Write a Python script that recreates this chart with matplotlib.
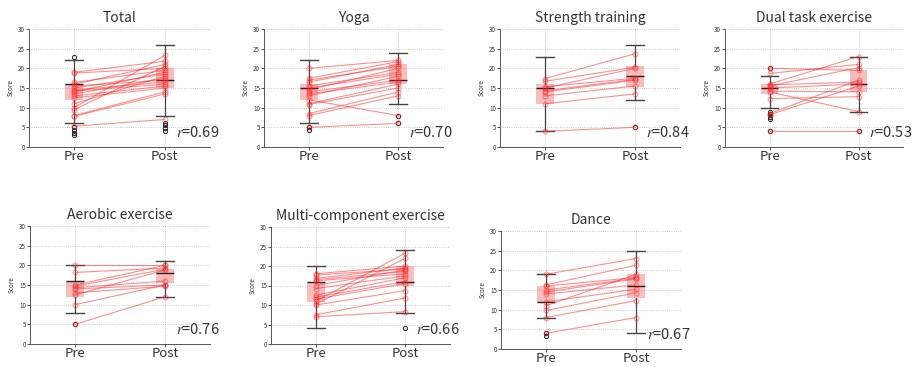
import numpy as np
import matplotlib
matplotlib.use('Agg')
import matplotlib.pyplot as plt

plt.rcParams['font.family'] = ['Noto Sans CJK JP', 'DejaVu Sans']
plt.rcParams['mathtext.fontset'] = 'stix'

#panel titles and correlation values
titles = ['Total', 'Yoga', 'Strength training', 'Dual task exercise',
          'Aerobic exercise', 'Multi-component exercise', 'Dance']
r_values = [0.69, 0.70, 0.84, 0.53, 0.76, 0.66, 0.67]
groups = ['Pre', 'Post']

#paired scores (pre, post)
total_pre = [19, 18.8, 16.4, 16, 15.5, 15, 14.5, 14.2, 14, 13.5, 13, 12.5, 11, 10, 9.5, 8, 7.8, 5.3]
total_post = [21.8, 20, 19.5, 21, 17, 18.5, 16.5, 16, 19, 17.5, 15.5, 15, 18, 23.3, 20.5, 14, 13.5, 7]
yoga_pre = [20, 17.5, 17, 16.5, 15.5, 15, 14.5, 14, 13.5, 13, 12, 11, 10.8, 8.5, 8, 5]
yoga_post = [22, 21.7, 20.5, 21, 19, 18.5, 20, 17, 16.5, 18, 8, 16, 15, 14, 13, 6]
strength_pre = [17.4, 16.7, 15.3, 15, 14.3, 14, 13, 11, 4]
strength_post = [23.7, 20.3, 17.5, 20, 17.2, 17, 15.5, 13.5, 5]
dual_pre = [20, 18.7, 16, 15.8, 15.5, 15, 14.2, 14, 12.3, 8.5, 8.2, 4]
dual_post = [19.5, 21, 23, 16.5, 20.2, 16, 14, 9, 12.8, 17, 15.5, 4]
aerobic_pre = [20, 18.2, 15, 14.7, 14.3, 14, 13, 12.5, 10, 5]
aerobic_post = [20, 19.3, 20, 19, 16, 15, 14.7, 18.8, 15, 12]
multi_pre = [18, 17.7, 16.8, 16.5, 16.2, 15, 14.2, 12.5, 12, 11.5, 11, 10.2, 10, 7.5, 7]
multi_post = [20, 19.2, 19.5, 18.6, 18, 19, 17.5, 17, 16, 15.5, 23.3, 22, 13.7, 11.8, 8.3]
dance_pre = [19, 16.3, 16, 15, 14.5, 14, 12, 11, 9.8, 8, 4]
dance_post = [23, 21.3, 18.2, 18, 17.8, 16.3, 15.2, 19, 14.3, 12.3, 8]

pre_scores = [total_pre, yoga_pre, strength_pre, dual_pre, aerobic_pre, multi_pre, dance_pre]
post_scores = [total_post, yoga_post, strength_post, dual_post, aerobic_post, multi_post, dance_post]

#box statistics per panel: [pre, post]
q1 = [[12, 15], [12, 16], [11, 15.3], [13.5, 14], [12, 15.5], [10.8, 14.8], [12, 13]]
med = [[16, 17], [15, 17], [15, 18], [15, 16], [16, 18], [16, 16], [12, 16]]
q3 = [[16, 20], [16, 21], [16, 20.5], [16, 19.5], [16, 19], [16, 20], [16, 19]]
whislo = [[6, 8], [6, 11], [4, 12], [10, 9], [8, 12], [4, 8], [8, 4]]
whishi = [[22, 26], [22, 24], [23, 26], [18, 23], [20, 21], [20, 24], [19, 25]]
fliers = [[[23, 5, 4.2, 3.6, 3.0], [6.2, 5.5, 4.8, 4.1]],
          [[5, 4.2], [8, 6]],
          [[], [5]],
          [[20, 8.8, 8.3, 7.6, 7.0, 4], [4]],
          [[5], []],
          [[], [4]],
          [[4, 3.2], []]]

#axes positions in pixels: left, right, top, bottom
W, H = 919, 367
boxes_px = [(29, 210, 29, 147), (264, 443, 29, 147), (500, 680, 29, 147), (725, 903, 29, 147),
            (30, 210, 226, 344), (271, 450, 227, 344), (501, 681, 231, 349)]

fig = plt.figure(figsize=(W / 100, H / 100), dpi=100)

for i in range(7):
    l, r, t, b = boxes_px[i]
    ax = fig.add_axes([l / W, 1 - b / H, (r - l) / W, (b - t) / H])

    stats = []
    for j in range(2):
        stats.append(dict(label=groups[j], med=med[i][j], q1=q1[i][j], q3=q3[i][j],
                          whislo=whislo[i][j], whishi=whishi[i][j], fliers=fliers[i][j]))
    ax.bxp(stats, positions=[1, 2], widths=0.2, capwidths=0.2, patch_artist=True,
           boxprops=dict(facecolor='#f47c7c', edgecolor='none', alpha=0.5),
           medianprops=dict(color='#222222', linewidth=1.0),
           whiskerprops=dict(color='#444444', linewidth=0.9),
           capprops=dict(color='#444444', linewidth=1.0),
           flierprops=dict(marker='o', markersize=3, markerfacecolor='none',
                           markeredgecolor='#222222', markeredgewidth=0.7),
           zorder=2)

    #paired lines
    for a, c in zip(pre_scores[i], post_scores[i]):
        ax.plot([1, 2], [a, c], color='#ff2020', alpha=0.5, linewidth=0.8,
                marker='o', markersize=3.5, markerfacecolor='none',
                markeredgewidth=0.7, zorder=3)

    ax.set_xlim(0.5, 2.5)
    ax.set_ylim(0, 30)
    ax.set_xticks([1, 2])
    ax.set_xticklabels(groups, fontsize=9.5, color='#333333')
    ax.set_yticks(range(0, 31, 5))
    ax.tick_params(axis='y', labelsize=4.5, length=2, width=0.6, pad=1, colors='#333333')
    ax.tick_params(axis='x', length=2, width=0.6, pad=0.5, colors='#333333')
    ax.set_ylabel('Score', fontsize=4.5, labelpad=2, color='#333333')
    ax.set_title(titles[i], fontsize=10, pad=5, color='#333333')
    ax.grid(True, linestyle=':', linewidth=0.6, color='#bbbbbb')
    ax.set_axisbelow(True)
    for s in ['top', 'right']:
        ax.spines[s].set_visible(False)
    for s in ['left', 'bottom']:
        ax.spines[s].set_color('#555555')
        ax.spines[s].set_linewidth(0.7)

    ax.text(0.81, 0.12, '$r$=%.2f' % r_values[i], transform=ax.transAxes,
            fontsize=10.5, ha='left', va='center', color='#333333', clip_on=False)

fig.savefig('out.png', dpi=100)
